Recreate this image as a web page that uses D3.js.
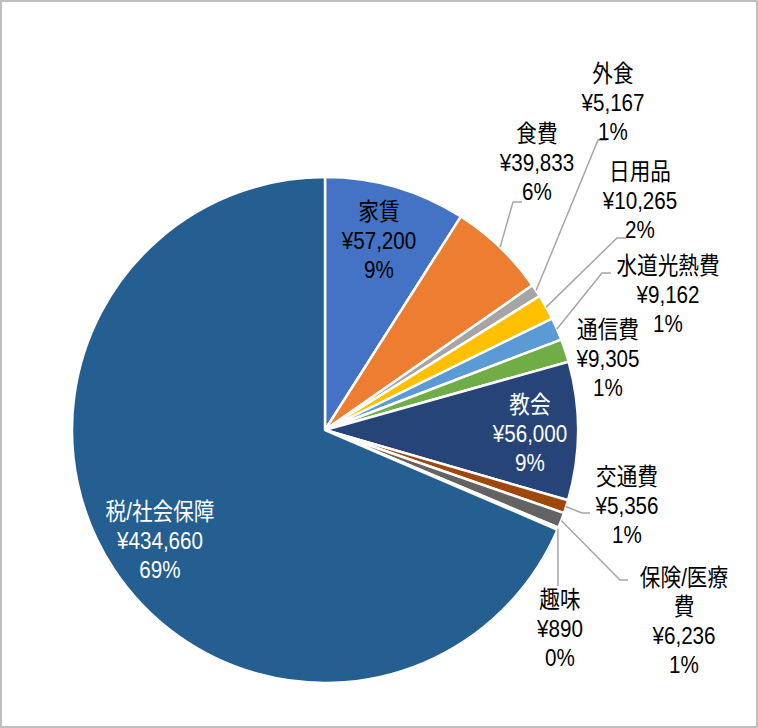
<!DOCTYPE html>
<html><head><meta charset="utf-8">
<script src="https://cdn.jsdelivr.net/npm/d3@7"></script>
<style>
html,body{margin:0;padding:0;background:#fff;}
text{font-family:"Liberation Sans","Noto Sans CJK JP",sans-serif;font-size:24px;}
</style></head>
<body>
<svg id="chart" width="758" height="728"></svg>
<script>
const categories = ["家賃","食費","外食","日用品","水道光熱費","通信費","教会","交通費","保険/医療費","趣味","税/社会保障"];
const values = [57200, 39833, 5167, 10265, 9162, 9305, 56000, 5356, 6236, 890, 434660];
const colors = ["#4472C4","#ED7D31","#A5A5A5","#FFC000","#5B9BD5","#70AD47","#264478","#9E480E","#636363","#997300","#255E91"];

// label layout: centre of text block, text lines of category name, elbow/end of leader (null = no leader)
const labelLayout = [
  {x:379, y:240, name:["家賃"], color:"#000", leader:null},
  {x:537, y:162, name:["食費"], color:"#000", leader:[[513,202],[522,202]]},
  {x:613, y:102, name:["外食"], color:"#000", leader:[[598,140],[607,140]]},
  {x:640, y:200, name:["日用品"], color:"#000", leader:[[617,238],[626,238]]},
  {x:668, y:294, name:["水道光熱費"], color:"#000", leader:[[602,273],[611,273]]},
  {x:608, y:358, name:["通信費"], color:"#000", leader:null},
  {x:530, y:433, name:["教会"], color:"#fff", leader:null},
  {x:627, y:505, name:["交通費"], color:"#000", leader:[[582,513],[590,513]]},
  {x:684, y:621, name:["保険/医療","費"], color:"#000", leader:[[620,580],[628,580]]},
  {x:560, y:628, name:["趣味"], color:"#000", leader:[[558,586],[558,586]]},
  {x:160, y:540, name:["税/社会保障"], color:"#fff", leader:null}
];

const svg = d3.select("#chart");
svg.append("rect").attr("x",1).attr("y",1).attr("width",756).attr("height",726)
  .attr("fill","#fff").attr("stroke","#BFBFBF").attr("stroke-width",2);

const cx = 325, cy = 430, R = 253;
const g = svg.append("g").attr("transform",`translate(${cx},${cy})`);
const total = d3.sum(values);
const data = categories.map((c,i)=>({cat:c, value:values[i], i}));
const pie = d3.pie().value(d=>d.value).sort(null).startAngle(0).endAngle(2*Math.PI);
const arcs = pie(data);
const arc = d3.arc().innerRadius(0).outerRadius(R);
const edgeArc = d3.arc().innerRadius(R).outerRadius(R);

g.selectAll("path.slice").data(arcs).enter().append("path")
  .attr("class","slice")
  .attr("d",arc)
  .attr("fill",d=>colors[d.data.i])
  .attr("stroke","#fff").attr("stroke-width",2.5).attr("stroke-linejoin","round");

const fmt = d3.format(",");
// leaders
arcs.forEach((a,k)=>{
  const L = labelLayout[k];
  if(!L.leader) return;
  const c = edgeArc.centroid(a);
  const pts = [[cx+c[0], cy+c[1]], ...L.leader];
  svg.append("path").attr("d", d3.line()(pts))
    .attr("fill","none").attr("stroke","#A6A6A6").attr("stroke-width",1.5);
});

// labels
const lh = 29;
arcs.forEach((a,k)=>{
  const L = labelLayout[k];
  const lines = [...L.name, "¥"+fmt(a.data.value), Math.round(a.data.value/total*100)+"%"];
  const n = lines.length;
  const t = svg.append("text").attr("text-anchor","middle").attr("fill",L.color)
    .attr("transform",`translate(${L.x},0) scale(0.86,1)`);
  lines.forEach((s,j)=>{
    t.append("tspan").attr("x",0).attr("y", L.y + (j-(n-1)/2)*lh + 9).text(s);
  });
});
</script>
</body></html>
